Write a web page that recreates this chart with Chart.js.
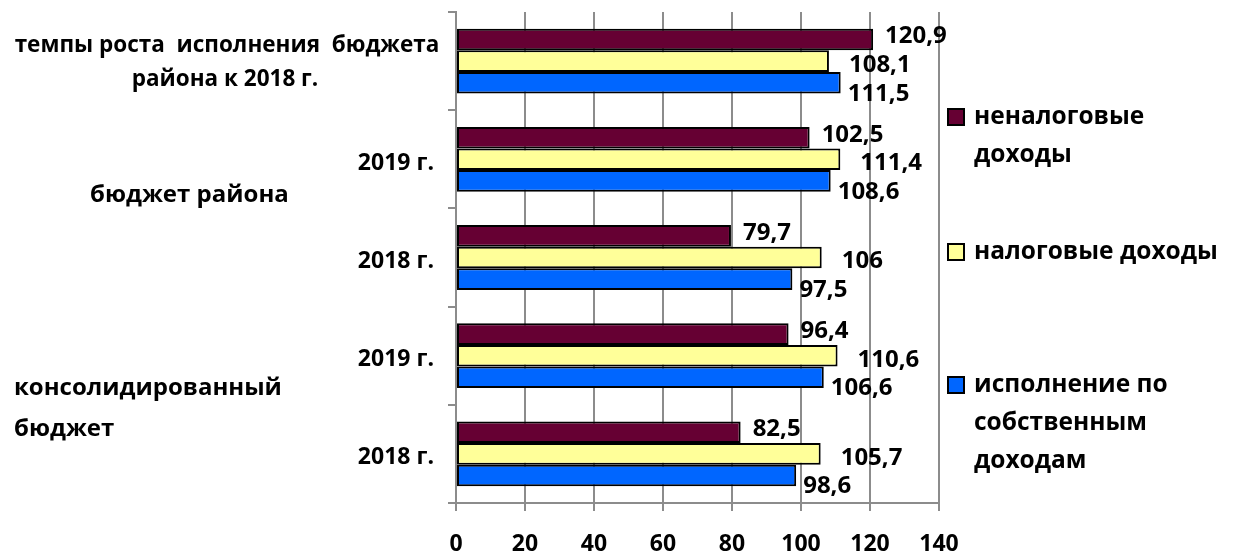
<!DOCTYPE html>
<html>
<head>
<meta charset="utf-8">
<script src="https://cdn.jsdelivr.net/npm/chart.js@4"></script>
<style>
  html, body { margin: 0; padding: 0; background: #fff; }
  #wrap { width: 1239px; height: 553px; }
</style>
</head>
<body>
<div id="wrap"><canvas id="chart" width="1239" height="553"></canvas></div>
<script>
// Categories, top to bottom
const CATEGORIES = ["темпы роста", "2019 г.", "2018 г.", "2019 г.", "2018 г."];
const TOP_LABEL = ["темпы роста  исполнения  бюджета", "района к 2018 г."];

const GROUP_LABELS = [
  { lines: ["бюджет района"], x: 90, y: 195 },
  { lines: ["консолидированный", "бюджет"], x: 14, y: 388 },
];

const SERIES_NAMES = [
  ["неналоговые", "доходы"],
  ["налоговые доходы"],
  ["исполнение по", "собственным", "доходам"],
];
const NON_TAX = [120.9, 102.5, 79.7, 96.4, 82.5];
const TAX = [108.1, 111.4, 106, 110.6, 105.7];
const OWN = [111.5, 108.6, 97.5, 106.6, 98.6];

const X_TICKS = [0, 20, 40, 60, 80, 100, 120, 140];

const COLORS = ["#660033", "#FFFF99", "#0066FF"];
const FONT = "'Open Sans', 'DejaVu Sans', sans-serif";
const GRID = "#8c8c8c";

// label offsets (gap from bar end, vertical shift) per series — Excel put them oddly
const LABEL_OFFSET = [{ dx: 12, dy: -3 }, { dx: 20, dy: 4 }, { dx: 7, dy: 11 }];

const fmt = (v) => String(v).replace(".", ",");

// ── Custom drawing: value labels, left-side text, legend ──────────

const extrasPlugin = {
  id: "extras",
  afterDatasetsDraw(chart) {
    const ctx = chart.ctx;
    ctx.save();
    ctx.fillStyle = "#000";
    ctx.font = `bold 24px ${FONT}`;
    ctx.textBaseline = "middle";
    ctx.textAlign = "left";
    chart.data.datasets.forEach((ds, di) => {
      const meta = chart.getDatasetMeta(di);
      meta.data.forEach((bar, i) => {
        const off = LABEL_OFFSET[di];
        ctx.fillText(fmt(ds.data[i]), bar.x + off.dx, bar.y + off.dy);
      });
    });
    ctx.restore();
  },
  afterDraw(chart) {
    const ctx = chart.ctx;
    ctx.save();
    ctx.fillStyle = "#000";
    ctx.textBaseline = "middle";

    // top category label, centred two lines
    ctx.font = `bold 22.5px ${FONT}`;
    ctx.textAlign = "center";
    ctx.fillText(TOP_LABEL[0], 227, 46);
    ctx.fillText(TOP_LABEL[1], 225, 80);

    // group labels
    ctx.font = `bold 24px ${FONT}`;
    ctx.textAlign = "left";
    GROUP_LABELS.forEach((g) => {
      g.lines.forEach((ln, k) => ctx.fillText(ln, g.x, g.y + k * 41));
    });

    // legend
    const legendX = 948;
    const legendY = [117, 252, 385];
    ctx.font = `bold 24.5px ${FONT}`;
    SERIES_NAMES.forEach((lines, si) => {
      const top = legendY[si];
      ctx.fillStyle = COLORS[si];
      ctx.fillRect(legendX, top - 8, 16, 16);
      ctx.strokeStyle = "#000";
      ctx.lineWidth = 2;
      ctx.strokeRect(legendX, top - 8, 16, 16);
      ctx.fillStyle = "#000";
      lines.forEach((ln, k) => ctx.fillText(ln, legendX + 26, top + k * 38));
    });
    ctx.restore();
  },
};

new Chart(document.getElementById("chart"), {
  type: "bar",
  data: {
    labels: CATEGORIES,
    datasets: [
      { label: SERIES_NAMES[0].join(" "), data: NON_TAX, backgroundColor: COLORS[0] },
      { label: SERIES_NAMES[1].join(" "), data: TAX, backgroundColor: COLORS[1] },
      { label: SERIES_NAMES[2].join(" "), data: OWN, backgroundColor: COLORS[2] },
    ].map((d) => ({ ...d, borderColor: "#000", borderWidth: 2, borderSkipped: false, categoryPercentage: 0.66, barPercentage: 1 })),
  },
  options: {
    indexAxis: "y",
    responsive: false,
    animation: false,
    layout: { padding: { top: 12, right: 300, left: 0, bottom: 0 } },
    plugins: { legend: { display: false }, tooltip: { enabled: false } },
    scales: {
      x: {
        min: 0,
        max: 140,
        afterBuildTicks: (s) => { s.ticks = X_TICKS.map((v) => ({ value: v })); },
        afterFit: (s) => { s.height = 50; s.paddingLeft = 0; s.paddingRight = 0; },
        grid: { color: GRID, lineWidth: 2, tickLength: 8 },
        border: { color: GRID, width: 2 },
        ticks: { color: "#000", font: { family: FONT, weight: "bold", size: 23 }, padding: 20 },
      },
      y: {
        afterFit: (s) => { s.width = 456; s.paddingTop = 0; s.paddingBottom = 0; },
        grid: { color: GRID, lineWidth: 2, drawOnChartArea: false, tickLength: 8 },
        border: { color: GRID, width: 2 },
        ticks: {
          color: "#000",
          font: { family: FONT, weight: "bold", size: 23 },
          padding: 14,
          labelOffset: 4,
          callback: (v, i) => (i === 0 ? "" : CATEGORIES[i]),
        },
      },
    },
  },
  plugins: [extrasPlugin],
});
</script>
</body>
</html>
